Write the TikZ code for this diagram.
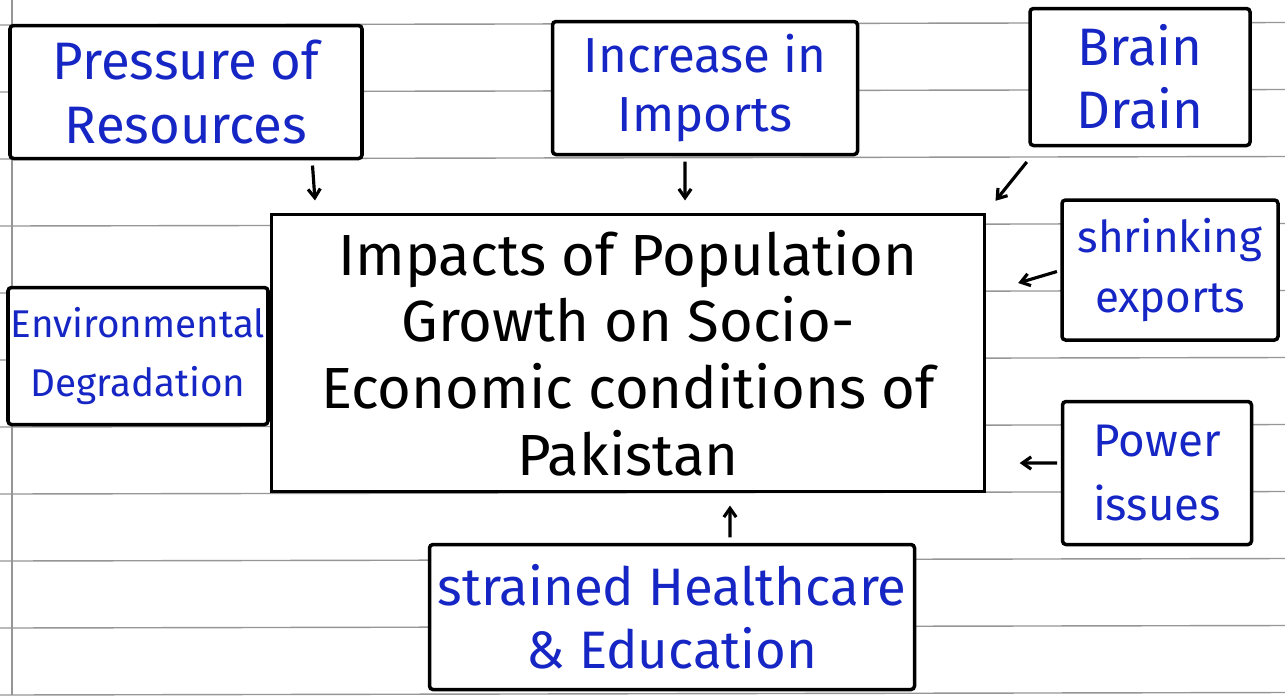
\documentclass[tikz,border=0pt]{standalone}
\usepackage{fontspec}
\setmainfont{Fira Sans}
\usepackage{xcolor}
\usetikzlibrary{arrows.meta, calc}
\definecolor{inkblue}{RGB}{22,38,196}
\definecolor{paperline}{RGB}{150,150,150}

\begin{document}
\begin{tikzpicture}[outer sep=0pt, inner sep=0pt,
    box/.style={draw, line width=2pt, rounded corners=2pt, align=center, text=inkblue},
    arr/.style={-{Straight Barb[length=5pt,width=7pt]}, line width=1.8pt, shorten <=4pt, shorten >=8pt},
    rule/.style={paperline, line width=0.8pt}]
    \useasboundingbox (0,0) rectangle (25.7,-13.9);
    \fill[white] (0,0) rectangle (25.7,-13.9);

    % Papierlinien
    \foreach \k in {0,...,10}
      \draw[rule] (0,-0.5-1.34*\k) -- (25.7,-0.45-1.34*\k);
    \draw[rule] (0.24,0) -- (0.24,-13.9);

    % Mitte
    \node[draw, line width=2pt, fill=white, minimum width=14.26cm, minimum height=5.54cm, align=center,
      font=\fontsize{33}{38}\selectfont] (impacts) at (12.56,-7.06)
      {Impacts of Population\\ Growth on Socio-\\ Economic conditions of\\ Pakistan};

    % Oben
    \node[box, fill=white, minimum width=7.04cm, minimum height=2.66cm, font=\fontsize{30}{36}\selectfont]
      (pressure) at (3.72,-1.84) {Pressure of\\ Resources};
    \node[box, fill=white, minimum width=6.1cm, minimum height=2.66cm, font=\fontsize{28}{34}\selectfont]
      (imports) at (14.1,-1.76) {Increase in\\ Imports};
    \node[box, fill=white, minimum width=4.4cm, minimum height=2.74cm, font=\fontsize{30}{36}\selectfont]
      (brain) at (22.8,-1.54) {Brain\\ Drain};

    % Links
    \node[box, fill=white, minimum width=5.2cm, minimum height=2.74cm, font=\fontsize{22}{34}\selectfont]
      (environment) at (2.76,-7.12) {Environmental\\ Degradation};

    % Rechts
    \node[box, fill=white, minimum width=4.32cm, minimum height=2.8cm, font=\fontsize{25}{34}\selectfont]
      (exports) at (23.4,-5.4) {shrinking\\ exports};
    \node[box, fill=white, minimum width=3.78cm, minimum height=2.86cm, font=\fontsize{26}{36}\selectfont]
      (power) at (23.14,-9.46) {Power\\ issues};

    % Unten
    \node[box, fill=white, minimum width=9.7cm, minimum height=2.9cm, font=\fontsize{30}{36}\selectfont]
      (health) at (13.44,-12.34) {strained Healthcare\\ \& Education};

    % Pfeile
    \draw[arr] ($(pressure.south)+(2.52,0)$) -- ($(impacts.north)+(-6.24,0)$);
    \draw[arr] ($(imports.south)+(-0.4,0)$) -- ($(impacts.north)+(1.14,0)$);
    \draw[arr, shorten <=12pt, shorten >=10pt] ($(brain.south west)+(0.2,0)$) -- (impacts.north east);
    \draw[arr, shorten <=3pt, shorten >=20pt] (exports.west) -- ($(impacts.east)+(0,1.2)$);
    \draw[arr, shorten <=3pt, shorten >=20pt] ($(power.west)+(0,0.2)$) -- ($(impacts.east)+(0,-2.2)$);
    \draw[arr] ($(health.north)+(1.16,0)$) -- ($(impacts.south)+(2.04,0)$);
  \end{tikzpicture}
\end{document}
